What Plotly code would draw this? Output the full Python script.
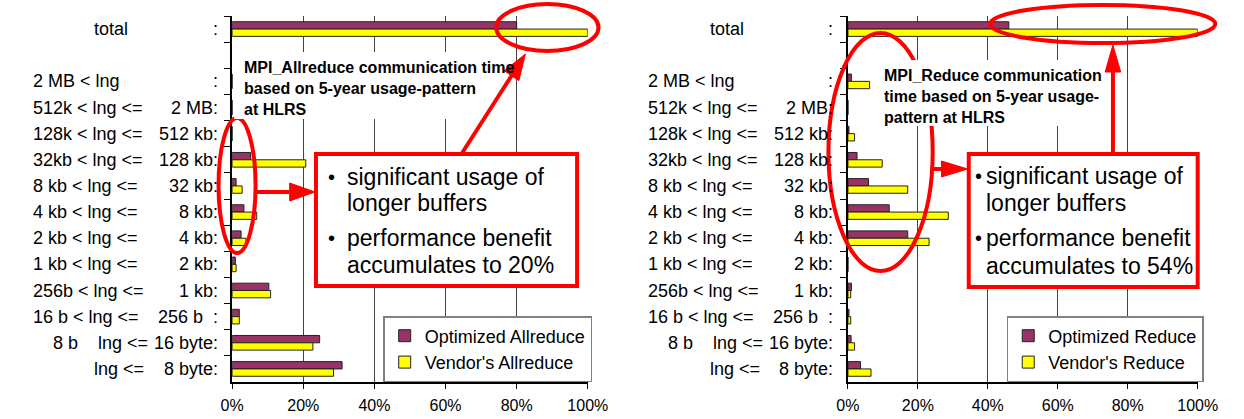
import math
import plotly.graph_objects as go

W, H = 1244, 419
TOP, BOT = 16, 382  # pixel rows of the plotting area

# row labels: text before the tab stop and text after it
label_pre = ["", "", "2 MB <", "512k <", "128k <", "32kb <", "8 kb <", "4 kb <",
             "2 kb <", "1 kb <", "256b <", "16 b <",
             "\u00a0\u00a0\u00a0\u00a08 b\u00a0\u00a0\u00a0", ""]
label_mid = ["total", "", "lng"] + ["lng <="] * 11
label_suf = [":", "", ":", "2 MB:", "512 kb:", "128 kb:", "32 kb:", "8 kb:", "4 kb:",
             "2 kb:", "1 kb:", "256 b\u00a0\u00a0:", "16 byte:", "8 byte:"]
rows = [" ".join(t).strip() or "gap" for t in zip(label_pre, label_mid, label_suf)]

# share of communication time in %
allreduce_opt = [80, None, 0, 0, 0, 5.2, 1.1, 3.3, 2.5, 0.9, 10.3, 2.0, 24.6, 30.9]
allreduce_vendor = [100, None, 0, 0, 0, 20.7, 2.8, 6.9, 3.9, 1.1, 10.8, 2.0, 22.7, 28.5]
reduce_opt = [46, None, 1.0, 0, 0.3, 2.6, 5.9, 11.8, 17.1, 0, 1.0, 0.3, 0.9, 3.6]
reduce_vendor = [100, None, 6.2, 0, 1.9, 9.8, 17.1, 28.7, 23.2, 0, 0.8, 0.8, 1.9, 6.6]

PURPLE = "#993366"
YELLOW = "#ffff00"
RED = "#ff0000"
FONT = "Liberation Sans, Arial, sans-serif"


def px(x):
    return x / W


def py(y):
    return (BOT - y) / (BOT - TOP)


fig = go.Figure()

for vals, name, col, xa, ya, leg in [
    (allreduce_opt, "Optimized Allreduce", PURPLE, "x", "y", "legend"),
    (allreduce_vendor, "Vendor's Allreduce", YELLOW, "x", "y", "legend"),
    (reduce_opt, "Optimized Reduce", PURPLE, "x2", "y2", "legend2"),
    (reduce_vendor, "Vendor's Reduce", YELLOW, "x2", "y2", "legend2"),
]:
    fig.add_trace(go.Bar(x=vals, y=rows, orientation="h", name=name,
                         marker=dict(color=col, line=dict(color="#222222", width=1)),
                         xaxis=xa, yaxis=ya, legend=leg, hoverinfo="skip"))

xax = dict(range=[0, 100], dtick=20, ticksuffix="%", showgrid=True, gridcolor="#444444",
           gridwidth=1, zeroline=False, showline=True, linecolor="black", linewidth=1.5,
           ticks="outside", ticklen=5, tickcolor="black", ticklabelstandoff=3,
           tickfont=dict(size=16, color="black"), fixedrange=True)
yax = dict(type="category", categoryorder="array", categoryarray=rows,
           autorange="reversed", showticklabels=False, tickson="boundaries",
           ticks="outside", ticklen=6, tickcolor="black", showgrid=False,
           showline=True, linecolor="black", linewidth=1.5, fixedrange=True)

legend_style = dict(xanchor="left", yanchor="top", bgcolor="white", bordercolor="#808080",
                    borderwidth=1.5, font=dict(size=18), traceorder="normal")

fig.update_layout(
    width=W, height=H,
    margin=dict(l=0, r=0, t=TOP, b=H - BOT),
    paper_bgcolor="white", plot_bgcolor="white",
    font=dict(family=FONT, color="black"),
    barmode="group", bargap=0.44, bargroupgap=0,
    xaxis=dict(xax, domain=[px(226), px(591)], anchor="y"),
    yaxis=dict(yax, anchor="x"),
    xaxis2=dict(xax, domain=[px(858), px(1217)], anchor="y2"),
    yaxis2=dict(yax, anchor="x2"),
    legend=dict(legend_style, x=px(381), y=py(316)),
    legend2=dict(legend_style, x=px(1021), y=py(316)),
    showlegend=True,
)

# row labels
for off, yref in [(0, "y"), (632, "y2")]:
    for i in range(len(rows)):
        if label_pre[i]:
            left, lx = label_pre[i] + " " + label_mid[i], 19
        else:
            left, lx = label_mid[i], 82
        for txt, x, anc in [(left, lx, "left"), (label_suf[i], 213, "right")]:
            if txt:
                fig.add_annotation(x=px(x + off), y=i, xref="paper", yref=yref,
                                   text=txt, showarrow=False, xanchor=anc,
                                   yanchor="middle", font=dict(size=18))

shapes = []


def ellipse(x0, y0, x1, y1):
    shapes.append(dict(type="circle", xref="paper", yref="paper", x0=px(x0), x1=px(x1),
                       y0=py(y1), y1=py(y0), line=dict(color=RED, width=4)))


def box(x0, y0, x1, y1, line=True):
    shapes.append(dict(type="rect", xref="paper", yref="paper", x0=px(x0), x1=px(x1),
                       y0=py(y1), y1=py(y0), fillcolor="white",
                       line=dict(color=RED if line else "white", width=4 if line else 0)))


def arrow(x0, y0, x1, y1, hl=26, hw=9):
    d = math.hypot(x1 - x0, y1 - y0)
    ux, uy = (x1 - x0) / d, (y1 - y0) / d
    bx, by = x1 - ux * hl, y1 - uy * hl
    shapes.append(dict(type="line", xref="paper", yref="paper", x0=px(x0), y0=py(y0),
                       x1=px(bx + ux * 2), y1=py(by + uy * 2), line=dict(color=RED, width=4)))
    pts = [(x1, y1), (bx - uy * hw, by + ux * hw), (bx + uy * hw, by - ux * hw)]
    path = "M " + " L ".join(f"{px(a):.5f},{py(b):.5f}" for a, b in pts) + " Z"
    shapes.append(dict(type="path", xref="paper", yref="paper", path=path,
                       fillcolor=RED, line=dict(color=RED, width=1)))


# left chart decorations
ellipse(212, 118, 250, 253)
ellipse(497, 4, 602, 51)
box(228, 52, 508, 119, line=False)
box(312, 154, 580, 286)
arrow(250, 192, 311, 192)
arrow(462, 153, 527, 54)

# right chart decorations
ellipse(838, 33, 945, 271)
ellipse(1004, 5, 1235, 43)
box(892, 60, 1108, 126, line=False)
box(982, 154, 1217, 287)
arrow(943, 169, 981, 169, hl=27, hw=8)
arrow(1130, 153, 1130, 45, hl=27, hw=8)

fig.update_layout(shapes=shapes)

notes = [
    (236, 57, "MPI_Allreduce communication time<br>based on 5-year usage-pattern<br>at HLRS"),
    (893, 65, "MPI_Reduce communication<br>time based on 5-year usage-<br>pattern at HLRS"),
]
for x, y, txt in notes:
    fig.add_annotation(x=px(x), y=py(y), xref="paper", yref="paper", text=txt,
                       showarrow=False, xanchor="left", yanchor="top", align="left",
                       font=dict(size=16, family=FONT, weight="bold"))

# bullet boxes: one annotation per printed line
box_lines = [
    (328, 342, [(177, "significant usage of", True), (203, "longer buffers", False),
                (238, "performance benefit", True), (265, "accumulates to 20%", False)]),
    (992, 998, [(176, "significant usage of", True), (203, "longer buffers", False),
                (238, "performance benefit", True), (266, "accumulates to 54%", False)]),
]
for bx, tx, lines in box_lines:
    for y, txt, bullet in lines:
        if bullet:
            fig.add_annotation(x=px(bx), y=py(y), xref="paper", yref="paper", text="•",
                               showarrow=False, xanchor="center", yanchor="middle",
                               font=dict(size=20))
        fig.add_annotation(x=px(tx), y=py(y), xref="paper", yref="paper", text=txt,
                           showarrow=False, xanchor="left", yanchor="middle",
                           font=dict(size=23))

fig.write_html("out.html", config={"displayModeBar": False},
               post_script="document.body.style.margin = '0px';")
